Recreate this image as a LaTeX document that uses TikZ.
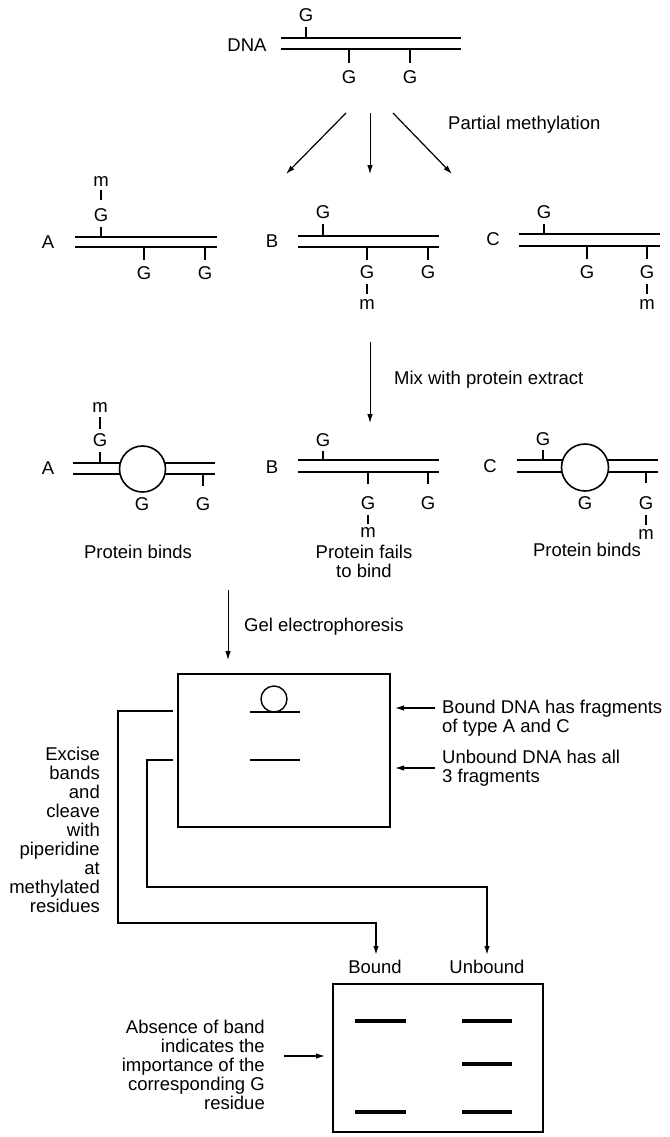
\documentclass[tikz,border=0pt]{standalone}
\usepackage{fontspec}
\setmainfont{Liberation Sans}
\usetikzlibrary{arrows.meta}
\begin{document}
\begin{tikzpicture}[x=1pt,y=-1pt,
  dna/.style={line width=2pt},
  tk/.style={line width=1.1pt},
  txt/.style={font=\fontsize{18.5}{19}\selectfont, inner sep=0pt},
  arr/.style={line width=1.2pt, -{Latex[length=9pt,width=5.5pt]}},
  conn/.style={line width=1.5pt},
  gelbox/.style={draw, line width=1.7pt, inner sep=0pt},
  prot/.style={circle, draw, line width=1.6pt, fill=white, inner sep=0pt},
  band/.style={line width=3.2pt},
]
\useasboundingbox (0,0) rectangle (669,1137);

% ---------- top DNA ----------
\node[txt] (dna) at (247,45) {DNA};
\draw[dna] (281,38) -- (461,38);
\draw[dna] (281,49) -- (461,49);
\node[txt] (t0a) at (306,15) {G}; \draw[tk] (306,27) -- (306,38);
\node[txt] (t0b) at (349,77) {G}; \draw[tk] (349,49) -- (349,63);
\node[txt] (t0c) at (410,77) {G}; \draw[tk] (410,49) -- (410,63);

% arrows partial methylation
\coordinate (s1) at (346,113); \coordinate (e1) at (286,174);
\coordinate (s2) at (370,113); \coordinate (e2) at (370,174);
\coordinate (s3) at (393,113); \coordinate (e3) at (452,174);
\draw[arr] (s1) -- (e1);
\draw[arr, line width=0.9pt] (s2) -- (e2);
\draw[arr] (s3) -- (e3);
\node[txt, anchor=base west] (pm) at (448,129.5) {Partial methylation};

% ---------- row 1 ----------
% A
\node[txt] (A1) at (48,242) {A};
\draw[dna] (75,237) -- (217,237);
\draw[dna] (75,247) -- (217,247);
\node[txt] (a1m) at (101,182) {m}; \draw[tk] (101,190) -- (101,200);
\node[txt] (a1g1) at (101,215) {G}; \draw[tk] (101,227) -- (101,237);
\node[txt] (a1g2) at (144,273) {G}; \draw[tk] (144,247) -- (144,260);
\node[txt] (a1g3) at (205,273) {G}; \draw[tk] (205,247) -- (205,260);
% B
\node[txt] (B1) at (272,241) {B};
\draw[dna] (298,236) -- (439,236);
\draw[dna] (298,247) -- (439,247);
\node[txt] (b1g1) at (323,212) {G}; \draw[tk] (323,224) -- (323,236);
\node[txt] (b1g2) at (367,272) {G}; \draw[tk] (367,247) -- (367,260);
\draw[tk] (367,284) -- (367,294);
\node[txt] (b1m) at (367,305) {m};
\node[txt] (b1g3) at (428,272) {G}; \draw[tk] (428,247) -- (428,260);
% C
\node[txt] (C1) at (493,239) {C};
\draw[dna] (519,234) -- (660,234);
\draw[dna] (519,246) -- (660,246);
\node[txt] (c1g1) at (544,212) {G}; \draw[tk] (544,224) -- (544,234);
\node[txt] (c1g2) at (587,272) {G}; \draw[tk] (587,246) -- (587,259);
\node[txt] (c1g3) at (647,272) {G}; \draw[tk] (647,246) -- (647,259);
\draw[tk] (647,284) -- (647,294);
\node[txt] (c1m) at (647,305) {m};

% mix arrow
\coordinate (s4) at (370,342); \coordinate (e4) at (370,423);
\draw[arr, line width=0.9pt] (s4) -- (e4);
\node[txt, anchor=base west] (mix) at (394,384.5) {Mix with protein extract};

% ---------- row 2 ----------
% A
\node[txt] (A2) at (48,468) {A};
\draw[dna] (73,463) -- (215,463);
\draw[dna] (73,474) -- (215,474);
\node[prot, minimum size=46] (pa) at (142.5,469) {};
\node[txt] (a2m) at (100,408) {m}; \draw[tk] (100,417) -- (100,429);
\node[txt] (a2g1) at (100,440) {G}; \draw[tk] (100,452) -- (100,463);
\node[txt] (a2g2) at (142,504) {G};
\node[txt] (a2g3) at (203,504) {G}; \draw[tk] (203,474) -- (203,486);
\node[txt] (pb1) at (138,552) {Protein binds};
% B
\node[txt] (B2) at (272,467) {B};
\draw[dna] (298,460) -- (439,460);
\draw[dna] (298,472) -- (439,472);
\node[txt] (b2g1) at (323,440) {G}; \draw[tk] (323,451) -- (323,460);
\node[txt] (b2g2) at (368,503) {G}; \draw[tk] (368,472) -- (368,484);
\draw[tk] (368,515) -- (368,524);
\node[txt] (b2m) at (368,533) {m};
\node[txt] (b2g3) at (428,503) {G}; \draw[tk] (428,472) -- (428,484);
\node[txt, align=center, anchor=north] (pf) at (364,545) {Protein fails\\to bind};
% C
\node[txt] (C2) at (490,466) {C};
\draw[dna] (517,460) -- (658,460);
\draw[dna] (517,472) -- (658,472);
\node[prot, minimum size=47] (pc) at (585,467.5) {};
\node[txt] (c2g1) at (543,439) {G}; \draw[tk] (543,450) -- (543,460);
\node[txt] (c2g2) at (585,503) {G};
\node[txt] (c2g3) at (646,503) {G}; \draw[tk] (646,472) -- (646,483);
\draw[tk] (646,515) -- (646,525);
\node[txt] (c2m) at (646,535) {m};
\node[txt] (pb2) at (587,550) {Protein binds};

% ---------- gel 1 ----------
\coordinate (s5) at (228,590); \coordinate (e5) at (228,660);
\draw[arr, line width=0.9pt] (s5) -- (e5);
\node[txt, anchor=base west] (gel) at (244,631.5) {Gel electrophoresis};
\node[gelbox, minimum width=212, minimum height=153] (g1) at (284,750.5) {};
\node[prot, line width=1.4pt, minimum size=26] (gc) at (274,699) {};
\draw[line width=1.6pt] (250,712) -- (300,712);
\draw[line width=1.6pt] (250,760) -- (300,760);

\coordinate (r1) at (435,708); \coordinate (r1e) at (395,708);
\coordinate (r2) at (435,768); \coordinate (r2e) at (395,768);
\draw[arr] (r1) -- (r1e);
\draw[arr] (r2) -- (r2e);
\node[txt, align=left, anchor=north west] (bd) at (442,700) {Bound DNA has fragments\\of type A and C};
\node[txt, align=left, anchor=north west] (ud) at (442,750) {Unbound DNA has all\\3 fragments};

\node[txt, align=right, anchor=north east] (exc) at (100,747)
  {Excise\\bands\\and\\cleave\\with\\piperidine\\at\\methylated\\residues};

% brackets
\node[txt] (bl) at (375,967) {Bound};
\node[txt] (ul) at (487,967) {Unbound};
\coordinate (k1) at (173,711);
\coordinate (k2) at (173,760);
\draw[conn, -{Latex[length=9pt,width=5.5pt]}] (k1) -- (118,711) -- (118,923) -- (376,923) -- (376,955);
\draw[conn, -{Latex[length=9pt,width=5.5pt]}] (k2) -- (147,760) -- (147,887) -- (487,887) -- (487,955);

% ---------- gel 2 ----------
\node[gelbox, minimum width=210, minimum height=148] (g2) at (438,1058) {};
\draw[band] (355,1021) -- (406,1021);
\draw[band] (462,1021) -- (512,1021);
\draw[band] (462,1064) -- (512,1064);
\draw[band] (355,1112) -- (406,1112);
\draw[band] (462,1112) -- (512,1112);

\node[txt, align=right, anchor=north east] (abs) at (265,1020)
  {Absence of band\\indicates the\\importance of the\\corresponding G\\residue};
\coordinate (q1) at (284,1056); \coordinate (q1e) at (325,1056);
\draw[arr] (q1) -- (q1e);
\end{tikzpicture}
\end{document}
